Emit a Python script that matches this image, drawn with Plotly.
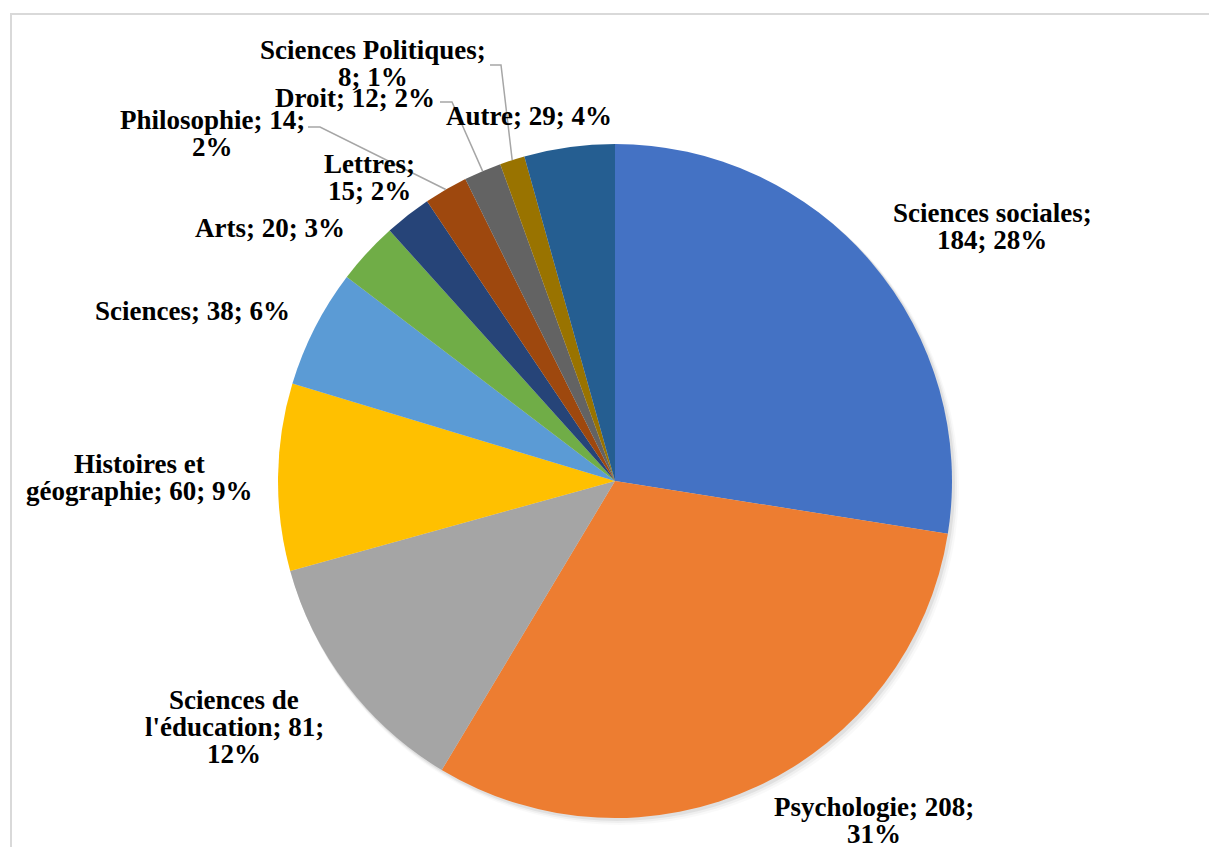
import math
import plotly.graph_objects as go

W, H = 1209, 847

# Disciplines (clockwise from 12 o'clock) and counts
categories = ["Sciences sociales", "Psychologie", "Sciences de l'éducation",
              "Histoires et géographie", "Sciences", "Arts", "Lettres",
              "Philosophie", "Droit", "Sciences Politiques", "Autre"]
counts = [184, 208, 81, 60, 38, 20, 15, 14, 12, 8, 29]
colors = ["#4472C4", "#ED7D31", "#A5A5A5", "#FFC000", "#5B9BD5", "#70AD47",
          "#264478", "#9E480E", "#636363", "#997300", "#255E91"]

# Label layout: line breaks and centre positions (pixels)
label_breaks = {
    "Sciences sociales": "Sciences sociales;|{v}; {p}",
    "Psychologie": "Psychologie; {v};|{p}",
    "Sciences de l'éducation": "Sciences de|l'éducation; {v};|{p}",
    "Histoires et géographie": "Histoires et|géographie; {v}; {p}",
    "Sciences": "Sciences; {v}; {p}",
    "Arts": "Arts; {v}; {p}",
    "Lettres": "Lettres;|{v}; {p}",
    "Philosophie": "Philosophie; {v};|{p}",
    "Droit": "Droit; {v}; {p}",
    "Sciences Politiques": "Sciences Politiques;|{v}; {p}",
    "Autre": "Autre; {v}; {p}",
}
label_pos = {
    "Sciences sociales": (992, 226),
    "Psychologie": (874, 820),
    "Sciences de l'éducation": (234, 727),
    "Histoires et géographie": (139, 477),
    "Sciences": (192, 311),
    "Arts": (270, 228),
    "Lettres": (369, 177),
    "Philosophie": (212, 133),
    "Droit": (355, 98),
    "Sciences Politiques": (373, 63),
    "Autre": (529, 116),
}
LINE_GAP = 27
FONT_SIZE = 27
# Leader lines: label-side start and elbow (pixels); end is on the slice rim
leaders = {
    "Philosophie": ((308, 127), (320, 127)),
    "Droit": ((440, 102), (452, 102)),
    "Sciences Politiques": ((490, 65), (501, 65)),
}

cx, cy, r = 615, 481, 337
total = sum(counts)

fig = go.Figure()
fig.add_trace(go.Pie(
    labels=categories, values=counts, sort=False, direction="clockwise",
    rotation=0, marker=dict(colors=colors, line=dict(width=0)),
    textinfo="none", hoverinfo="label+value+percent", showlegend=False,
    domain=dict(x=[(cx - r) / W, (cx + r) / W], y=[1 - (cy + r) / H, 1 - (cy - r) / H]),
))

shapes = []
# chart-area frame
shapes.append(dict(type="rect", xref="x", yref="y", x0=11, y0=14, x1=W + 5, y1=H + 5,
                   line=dict(color="#D9D9D9", width=2), fillcolor="rgba(0,0,0,0)"))
# soft drop shadow behind the pie
for off, col in [(7, "rgba(0,0,0,0.025)"), (5, "rgba(0,0,0,0.04)"), (3, "rgba(0,0,0,0.06)")]:
    shapes.append(dict(type="circle", xref="x", yref="y", layer="below",
                       x0=cx - r + off * 0.3, y0=cy - r + off * 0.6,
                       x1=cx + r + off, y1=cy + r + off,
                       line=dict(width=0), fillcolor=col))

annotations = []
cum = 0
for name, v in zip(categories, counts):
    pct = f"{round(100 * v / total)}%"
    lines = label_breaks[name].format(v=v, p=pct).split("|")
    lx, ly = label_pos[name]
    n = len(lines)
    for i, line in enumerate(lines):
        annotations.append(dict(x=lx, y=ly + (i - (n - 1) / 2) * LINE_GAP, xref="x", yref="y",
                                text=f"<b>{line}</b>", showarrow=False,
                                xanchor="center", yanchor="middle",
                                font=dict(family="Liberation Serif", size=FONT_SIZE, color="black")))
    mid = (cum + v / 2) / total * 2 * math.pi
    if name in leaders:
        (x0, y0), (x1, y1) = leaders[name]
        ex, ey = cx + r * math.sin(mid), cy - r * math.cos(mid)
        shapes.append(dict(type="path", xref="x", yref="y",
                           path=f"M {x0} {y0} L {x1} {y1} L {ex:.1f} {ey:.1f}",
                           line=dict(color="#A6A6A6", width=1.5)))
    cum += v

fig.update_layout(
    width=W, height=H, margin=dict(l=0, r=0, t=0, b=0),
    paper_bgcolor="white", plot_bgcolor="rgba(0,0,0,0)",
    xaxis=dict(range=[0, W], visible=False, fixedrange=True),
    yaxis=dict(range=[H, 0], visible=False, fixedrange=True),
    shapes=shapes, annotations=annotations,
)
fig.write_html("out.html")
